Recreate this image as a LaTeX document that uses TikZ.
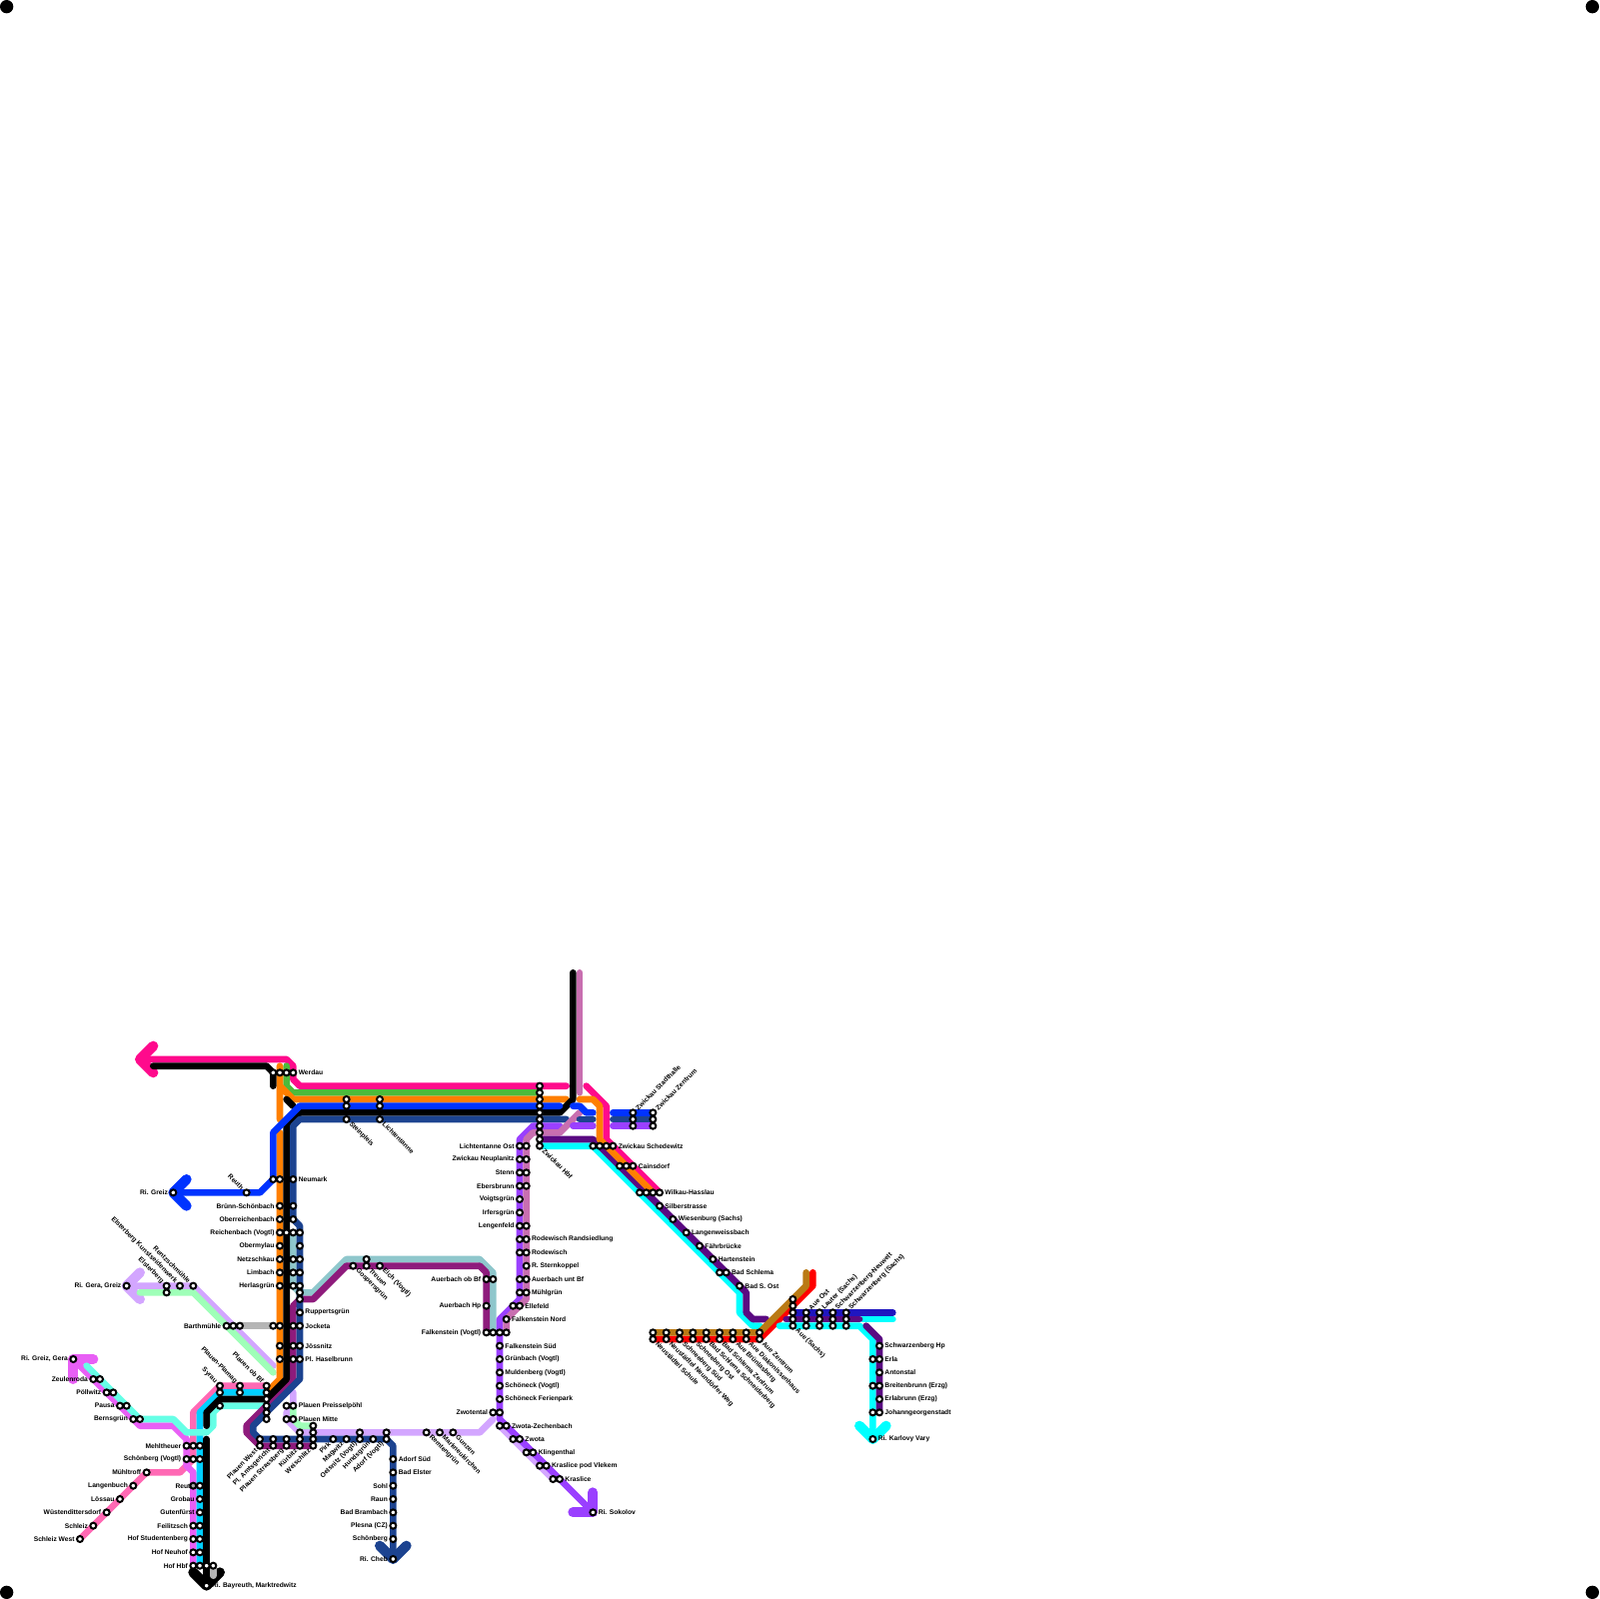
\documentclass[tikz,border=0pt]{standalone}
\usepackage{fontspec}
\setmainfont{Liberation Sans}
\definecolor{hotpink}{HTML}{FF0A8C}
\definecolor{softpink}{HTML}{FF69B4}
\definecolor{magentaline}{HTML}{E85FF5}
\definecolor{skyline}{HTML}{00CFFF}
\definecolor{turquoiseline}{HTML}{66FFE6}
\definecolor{cyanline}{HTML}{00FFFF}
\definecolor{indigoline}{HTML}{5A0A82}
\definecolor{plumline}{HTML}{8E1B7C}
\definecolor{tealline}{HTML}{8FC7CC}
\definecolor{navyline}{HTML}{1C4390}
\definecolor{blueline}{HTML}{0033FF}
\definecolor{deepblue}{HTML}{1F16C0}
\definecolor{greenline}{HTML}{4CBB3C}
\definecolor{orangeline}{HTML}{FF7F00}
\definecolor{roseline}{HTML}{C86FB0}
\definecolor{deepviolet}{HTML}{9A40FF}
\definecolor{lightviolet}{HTML}{D3A6FF}
\definecolor{mintline}{HTML}{9FFFB8}
\definecolor{greyline}{HTML}{B5B5B5}
\definecolor{ochreline}{HTML}{BA7A14}
\tikzset{
  strecke/.style={line width=1mm,line cap=round,line join=round},
  kopf/.style={line width=1.5mm,line cap=round,line join=round},
  halt/.style={draw=black,fill=white,line width=0.3mm},
  lbl/.style={inner xsep=0.75mm,inner ysep=0pt,font=\fontsize{2.85}{3}\selectfont\bfseries},
  lbe/.style={lbl,anchor=west},
  lbw/.style={lbl,anchor=east},
  lbne/.style={lbl,anchor=west,rotate=45},
  lbse/.style={lbl,anchor=west,rotate=-45},
  lbnw/.style={lbl,anchor=east,rotate=-45},
  lbsw/.style={lbl,anchor=east,rotate=45}
}
\begin{document}
\begin{tikzpicture}[x=1mm,y=-1mm]
  \useasboundingbox (0,0) rectangle (240,240);

  % Ecken
  \fill (1,1) circle (1);
  \fill (239,1) circle (1);
  \fill (1,239) circle (1);
  \fill (239,239) circle (1);

  % Linien Vogtland links
  \draw[strecke,lightviolet] (19,193) -- (29,193) -- (41,205);
  \draw[kopf,lightviolet] (21,191) -- (19,193) -- (21,195);
  \draw[strecke,mintline] (21,194) -- (29,194) -- (41,206);
  \draw[strecke,greyline] (36,199) -- (41,199);
  \draw[strecke,softpink] (40,208) -- (33,208) -- (29,212) -- (29,219) -- (27,221) -- (22,221) -- (12,231);
  \draw[strecke,magentaline] (11,204) -- (21,214) -- (26,214) -- (28,216) -- (28,220) -- (29,221) -- (29,235);
  \draw[kopf,magentaline] (14,204) -- (11,204) -- (11,207);
  \draw[strecke,skyline] (40,209) -- (33,209) -- (30,212) -- (30,235);
  \draw[strecke,turquoiseline] (13,205) -- (21,213) -- (26,213) -- (28,215) -- (31,215) -- (32,214) -- (32,212) -- (33,211) -- (40,211);

  % Linien Plauen
  \draw[strecke,lightviolet] (44,209) -- (44,211) -- (43,212) -- (43,213) -- (45,215) -- (72,215) -- (74,213);
  \draw[strecke,mintline] (44,211) -- (44,213) -- (45,214) -- (47,214);
  \draw[strecke,tealline] (74,200) -- (74,191) -- (72,189) -- (52,189) -- (47,194) -- (45,194) -- (44,193) -- (44,185);
  \draw[strecke,plumline] (73,200) -- (73,191) -- (72,190) -- (52,190) -- (47,195) -- (45,195) -- (44,196) -- (44,207) -- (37,214) -- (37,215) -- (39,217) -- (47,217);

  % Linien Werdau - Zwickau
  \draw[strecke,hotpink] (21,159) -- (43,159) -- (44,160) -- (44,162) -- (45,163) -- (85,163);
  \draw[kopf,hotpink] (23,157) -- (21,159) -- (23,161);
  \draw[strecke,greenline] (43,160) -- (43,163) -- (44,164) -- (81,164);
  \draw[strecke,orangeline] (42,168) -- (42,160) (42,163) -- (44,165) -- (85,165);
  \draw[strecke,orangeline] (42,170) -- (42,207) -- (40,209);
  \draw[strecke,black] (23,160) -- (40,160) -- (41,161) -- (41,163);
  \draw[strecke,black] (43,165) -- (44,166);
  \draw[strecke,black] (86,146) -- (86,165) -- (84,167) -- (45,167) -- (43,169) -- (43,207) -- (40,210) -- (33,210) -- (31,212) -- (31,214);
  \draw[strecke,black] (31,238) -- (31,216);
  \draw[kopf,black] (29,236) -- (31,238) -- (33,236);
  \draw[strecke,greyline] (32,235) -- (32,236.5);
  \draw[strecke,blueline] (84,166) -- (45,166) -- (41,170) -- (41,177) -- (39,179) -- (26,179);
  \draw[kopf,blueline] (28,177) -- (26,179) -- (28,181);
  \draw[strecke,navyline] (85,168) -- (45,168) -- (44,169) -- (44,183) -- (45,184) -- (45,207) -- (38,214) -- (38,215) -- (39,216) -- (58,216) -- (59,217) -- (59,234);
  \draw[kopf,navyline] (57,232) -- (59,234) -- (61,232);

  % Linien Zwickau - Falkenstein
  \draw[strecke,lightviolet] (75,214) -- (83,222);
  \draw[strecke,deepviolet] (84,169) -- (80,169) -- (78,171) -- (78,195) -- (75,198) -- (75,213) -- (89,227);
  \draw[kopf,deepviolet] (89,224) -- (89,227) -- (86,227);
  \draw[strecke,roseline] (87,146) -- (87,164);
  \draw[strecke,roseline] (87,167) -- (84,170) -- (80,170) -- (79,171) -- (79,195) -- (76,198) -- (76,200);

  % Stummel Zwickau
  \draw[strecke,blueline] (86,166) -- (87,166) -- (88,167) -- (89,167);
  \draw[strecke,navyline] (87,168) -- (89,168);
  \draw[strecke,deepviolet] (86,169) -- (89,169);
  \draw[strecke,blueline] (92,167) -- (98,167);
  \draw[strecke,navyline] (92,168) -- (98,168);
  \draw[strecke,deepviolet] (92,169) -- (98,169);

  % Linien Zwickau - Aue
  \draw[strecke,hotpink] (88,163) -- (91,166) -- (91,171) -- (99,179);
  \draw[strecke,cyanline] (81,172) -- (89,172) -- (111,194) -- (111,197) -- (113,199) -- (114,199);
  \draw[strecke,indigoline] (81,171) -- (89,171) -- (112,194) -- (112,197) -- (113,198) -- (115,198);
  \draw[strecke,orangeline] (87,165) -- (89,165) -- (90,166) -- (90,171) -- (98,179);

  % Linien Aue - Johanngeorgenstadt
  \draw[strecke,red] (98,201) -- (114,201) -- (122,193) -- (122,191);
  \draw[strecke,ochreline] (98,200) -- (114,200) -- (121,193) -- (121,191);
  \draw[strecke,deepblue] (119,197) -- (134,197);
  \draw[strecke,cyanline] (129.5,198) -- (134,198);
  \draw[strecke,indigoline] (118,198) -- (129,198);
  \draw[strecke,cyanline] (117,199) -- (129,199) -- (131,201) -- (131,216);
  \draw[kopf,cyanline] (129,214) -- (131,216) -- (133,214);
  \draw[strecke,indigoline] (130,199) -- (132,201) -- (132,212);

  % Beschriftung links
  \node[lbw] (rigeragreiz) at (19,193) {Ri. Gera, Greiz};
  \node[lbnw] (elsterberg) at (25,193) {Elsterberg};
  \node[lbnw] (kunstseidenwerk) at (27,193) {Elsterberg Kunstseidenwerk};
  \node[lbnw] (rentzschmuehle) at (29,193) {Rentzschmühle};
  \node[lbw] (barthmuehle) at (34,199) {Barthmühle};
  \node[lbw] (rigreizgera) at (11,204) {Ri. Greiz, Gera};
  \node[lbw] (zeulenroda) at (14,207) {Zeulenroda};
  \node[lbw] (poellwitz) at (16,209) {Pöllwitz};
  \node[lbw] (pausa) at (18,211) {Pausa};
  \node[lbw] (bernsgruen) at (20,213) {Bernsgrün};
  \node[lbw] (mehltheuer) at (28,217) {Mehltheuer};
  \node[lbw] (schoenbergv) at (28,219) {Schönberg (Vogtl)};
  \node[lbw] (muehltroff) at (22,221) {Mühltroff};
  \node[lbw] (langenbuch) at (20,223) {Langenbuch};
  \node[lbw] (loessau) at (18,225) {Lössau};
  \node[lbw] (wuestendittersdorf) at (16,227) {Wüstendittersdorf};
  \node[lbw] (schleiz) at (14,229) {Schleiz};
  \node[lbw] (schleizwest) at (12,231) {Schleiz West};
  \node[lbw] (reuthhof) at (30,223) {Reuth};
  \node[lbw] (grobau) at (30,225) {Grobau};
  \node[lbw] (gutenfuerst) at (30,227) {Gutenfürst};
  \node[lbw] (feilitzsch) at (29,229) {Feilitzsch};
  \node[lbw] (hofstudentenberg) at (29,231) {Hof Studentenberg};
  \node[lbw] (hofneuhof) at (29,233) {Hof Neuhof};
  \node[lbw] (hofhbf) at (29,235) {Hof Hbf};
  \node[lbe] (ribayreuth) at (31,238) {Ri. Bayreuth, Marktredwitz};

  % Beschriftung Werdau - Plauen
  \node[lbe] (werdau) at (44,161) {Werdau};
  \node[lbse] (steinpleis) at (52,168) {Steinpleis};
  \node[lbse] (lichtentanne) at (57,168) {Lichtentanne};
  \node[lbe] (neumark) at (44,177) {Neumark};
  \node[lbnw] (reuth) at (37,179) {Reuth};
  \node[lbw] (rigreiz) at (26,179) {Ri. Greiz};
  \node[lbw] (bruenn) at (42,181) {Brünn-Schönbach};
  \node[lbw] (oberreichenbach) at (42,183) {Oberreichenbach};
  \node[lbw] (reichenbach) at (42,185) {Reichenbach (Vogtl)};
  \node[lbw] (obermylau) at (42,187) {Obermylau};
  \node[lbw] (netzschkau) at (42,189) {Netzschkau};
  \node[lbw] (limbach) at (42,191) {Limbach};
  \node[lbw] (herlasgruen) at (42,193) {Herlasgrün};
  \node[lbe] (ruppertsgruen) at (45,197) {Ruppertsgrün};
  \node[lbe] (jocketa) at (45,199) {Jocketa};
  \node[lbe] (joessnitz) at (45,202) {Jössnitz};
  \node[lbe] (haselbrunn) at (45,204) {Pl. Haselbrunn};
  \node[lbnw] (plauenobbf) at (40,208) {Plauen ob Bf};
  \node[lbnw] (plamag) at (36,208) {Plauen-Plamag};
  \node[lbnw] (syrau) at (33,208) {Syrau};
  \node[lbe] (preisselpoehl) at (44,211) {Plauen Preisselpöhl};
  \node[lbe] (plauenmitte) at (44,213) {Plauen Mitte};
  \node[lbsw] (plauenwest) at (39,217) {Plauen West};
  \node[lbsw] (amtsgericht) at (41,217) {Pl. Amtsgericht};
  \node[lbsw] (strassberg) at (43,217) {Plauen Strassberg};
  \node[lbsw] (kuerbitz) at (45,217) {Kürbitz};
  \node[lbsw] (weischlitz) at (47,217) {Weischlitz};
  \node[lbsw] (pirk) at (50,216) {Pirk};
  \node[lbsw] (magwitz) at (52,216) {Magwitz};
  \node[lbsw] (oelsnitz) at (54,216) {Oelsnitz (Vogtl)};
  \node[lbsw] (hundsgruen) at (56,216) {Hundsgrün};
  \node[lbsw] (adorf) at (58,216) {Adorf (Vogtl)};
  \node[lbse] (remtengruen) at (64,215) {Remtengrün};
  \node[lbse] (markneukirchen) at (66,215) {Markneukirchen};
  \node[lbse] (gunzen) at (68,215) {Gunzen};
  \node[lbe] (adorfsued) at (59,219) {Adorf Süd};
  \node[lbe] (badelster) at (59,221) {Bad Elster};
  \node[lbw] (sohl) at (59,223) {Sohl};
  \node[lbw] (raun) at (59,225) {Raun};
  \node[lbw] (badbrambach) at (59,227) {Bad Brambach};
  \node[lbw] (plesna) at (59,229) {Plesna (CZ)};
  \node[lbw] (schoenberg) at (59,231) {Schönberg};
  \node[lbw] (richeb) at (59,234) {Ri. Cheb};
  \node[lbse] (gospersgruen) at (53,190) {Gospersgrün};
  \node[lbse] (treuen) at (55,190) {Treuen};
  \node[lbse] (eich) at (57,190) {Eich (Vogtl)};

  % Beschriftung Zwickau - Falkenstein
  \node[lbse] (zwickauhbf) at (81,172) {Zwickau Hbf};
  \node[lbw] (lichtentanneost) at (78,172) {Lichtentanne Ost};
  \node[lbw] (neuplanitz) at (78,174) {Zwickau Neuplanitz};
  \node[lbw] (stenn) at (78,176) {Stenn};
  \node[lbw] (ebersbrunn) at (78,178) {Ebersbrunn};
  \node[lbw] (voigtsgruen) at (78,180) {Voigtsgrün};
  \node[lbw] (irfersgruen) at (78,182) {Irfersgrün};
  \node[lbw] (lengenfeld) at (78,184) {Lengenfeld};
  \node[lbe] (randsiedlung) at (79,186) {Rodewisch Randsiedlung};
  \node[lbe] (rodewisch) at (79,188) {Rodewisch};
  \node[lbe] (sternkoppel) at (79,190) {R. Sternkoppel};
  \node[lbe] (auerbachunt) at (79,192) {Auerbach unt Bf};
  \node[lbe] (muehlgruen) at (79,194) {Mühlgrün};
  \node[lbe] (ellefeld) at (78,196) {Ellefeld};
  \node[lbe] (falkensteinnord) at (76,198) {Falkenstein Nord};
  \node[lbw] (auerbachob) at (73,192) {Auerbach ob Bf};
  \node[lbw] (auerbachhp) at (73,196) {Auerbach Hp};
  \node[lbw] (falkenstein) at (73,200) {Falkenstein (Vogtl)};
  \node[lbe] (falkensteinsued) at (75,202) {Falkenstein Süd};
  \node[lbe] (gruenbach) at (75,204) {Grünbach (Vogtl)};
  \node[lbe] (muldenberg) at (75,206) {Muldenberg (Vogtl)};
  \node[lbe] (schoeneck) at (75,208) {Schöneck (Vogtl)};
  \node[lbe] (ferienpark) at (75,210) {Schöneck Ferienpark};
  \node[lbw] (zwotental) at (74,212) {Zwotental};
  \node[lbe] (zechenbach) at (76,214) {Zwota-Zechenbach};
  \node[lbe] (zwota) at (78,216) {Zwota};
  \node[lbe] (klingenthal) at (80,218) {Klingenthal};
  \node[lbe] (podvlekem) at (82,220) {Kraslice pod Vlekem};
  \node[lbe] (kraslice) at (84,222) {Kraslice};
  \node[lbe] (risokolov) at (89,227) {Ri. Sokolov};

  % Beschriftung Zwickau - Aue
  \node[lbne] (stadthalle) at (95,167) {Zwickau Stadthalle};
  \node[lbne] (zentrum) at (98,167) {Zwickau Zentrum};
  \node[lbe] (schedewitz) at (92,172) {Zwickau Schedewitz};
  \node[lbe] (cainsdorf) at (95,175) {Cainsdorf};
  \node[lbe] (wilkau) at (99,179) {Wilkau-Hasslau};
  \node[lbe] (silberstrasse) at (99,181) {Silberstrasse};
  \node[lbe] (wiesenburg) at (101,183) {Wiesenburg (Sachs)};
  \node[lbe] (langenweissbach) at (103,185) {Langenweissbach};
  \node[lbe] (faehrbruecke) at (105,187) {Fährbrücke};
  \node[lbe] (hartenstein) at (107,189) {Hartenstein};
  \node[lbe] (badschlema) at (109,191) {Bad Schlema};
  \node[lbe] (badsost) at (111,193) {Bad S. Ost};
  \node[lbse] (neustaedtelschule) at (98,201) {Neustädtel Schule};
  \node[lbse] (neundoerfer) at (100,201) {Neustädtel Neundörfer Weg};
  \node[lbse] (schneebergsued) at (102,201) {Schneeberg Süd};
  \node[lbse] (schneebergost) at (104,201) {Schneeberg Ost};
  \node[lbse] (schneiderberg) at (106,201) {Bad Schlema Schneiderberg};
  \node[lbse] (schlemazentrum) at (108,201) {Bad Schlema Zentrum};
  \node[lbse] (bruenlasberg) at (110,201) {Aue Brünlasberg};
  \node[lbse] (diakonissenhaus) at (112,201) {Aue Diakonissenhaus};
  \node[lbse] (auezentrum) at (114,201) {Aue Zentrum};
  \node[lbse] (auesachs) at (119,199) {Aue (Sachs)};
  \node[lbne] (aueost) at (121,197) {Aue Ost};
  \node[lbne] (lauter) at (123,197) {Lauter (Sachs)};
  \node[lbne] (neuwelt) at (125,197) {Schwarzenberg-Neuwelt};
  \node[lbne] (schwarzenberg) at (127,197) {Schwarzenberg (Sachs)};
  \node[lbe] (schwarzenberghp) at (132,202) {Schwarzenberg Hp};
  \node[lbe] (erla) at (132,204) {Erla};
  \node[lbe] (antonstal) at (132,206) {Antonstal};
  \node[lbe] (breitenbrunn) at (132,208) {Breitenbrunn (Erzg)};
  \node[lbe] (erlabrunn) at (132,210) {Erlabrunn (Erzg)};
  \node[lbe] (johanngeorgenstadt) at (132,212) {Johanngeorgenstadt};
  \node[lbe] (rikarlovyvary) at (131,216) {Ri. Karlovy Vary};

  % Halte links
  \draw[halt] (19,193) circle (0.45) (25,193) circle (0.45) (25,194) circle (0.45) (27,193) circle (0.45) (29,193) circle (0.45);
  \draw[halt] (34,199) circle (0.45) (35,199) circle (0.45) (36,199) circle (0.45) (41,199) circle (0.45);
  \draw[halt] (11,204) circle (0.45) (14,207) circle (0.45) (15,207) circle (0.45) (16,209) circle (0.45) (17,209) circle (0.45);
  \draw[halt] (18,211) circle (0.45) (19,211) circle (0.45) (20,213) circle (0.45) (21,213) circle (0.45);
  \draw[halt] (22,221) circle (0.45) (20,223) circle (0.45) (18,225) circle (0.45) (16,227) circle (0.45) (14,229) circle (0.45) (12,231) circle (0.45);
  \draw[halt] (28,217) circle (0.45) (29,217) circle (0.45) (30,217) circle (0.45) (28,219) circle (0.45) (29,219) circle (0.45) (30,219) circle (0.45);
  \draw[halt,fill=gray!70] (29,223) circle (0.45);
  \draw[halt] (30,223) circle (0.45) (30,225) circle (0.45) (30,227) circle (0.45) (29,229) circle (0.45) (30,229) circle (0.45);
  \draw[halt] (29,231) circle (0.45) (30,231) circle (0.45) (29,233) circle (0.45) (30,233) circle (0.45);
  \draw[halt] (29,235) circle (0.45) (30,235) circle (0.45) (31,235) circle (0.45) (32,235) circle (0.45) (31,238) circle (0.45);

  % Halte Werdau - Plauen
  \draw[halt] (41,161) circle (0.45) (42,161) circle (0.45) (43,161) circle (0.45) (44,161) circle (0.45);
  \draw[halt] (52,165) circle (0.45) (52,166) circle (0.45) (52,168) circle (0.45) (57,165) circle (0.45) (57,166) circle (0.45) (57,168) circle (0.45);
  \draw[halt] (41,177) circle (0.45) (42,177) circle (0.45) (44,177) circle (0.45) (37,179) circle (0.45) (26,179) circle (0.45);
  \draw[halt] (42,181) circle (0.45) (44,181) circle (0.45) (42,183) circle (0.45) (44,183) circle (0.45);
  \draw[halt] (42,185) circle (0.45) (43,185) circle (0.45) (44,185) circle (0.45) (45,185) circle (0.45) (42,187) circle (0.45) (45,187) circle (0.45);
  \draw[halt] (42,189) circle (0.45) (44,189) circle (0.45) (45,189) circle (0.45) (42,191) circle (0.45) (44,191) circle (0.45) (45,191) circle (0.45);
  \draw[halt] (42,193) circle (0.45) (44,193) circle (0.45) (45,193) circle (0.45) (45,194) circle (0.45) (45,195) circle (0.45) (45,197) circle (0.45);
  \draw[halt] (42,199) circle (0.45) (44,199) circle (0.45) (45,199) circle (0.45) (42,202) circle (0.45) (44,202) circle (0.45) (45,202) circle (0.45);
  \draw[halt] (42,204) circle (0.45) (44,204) circle (0.45) (45,204) circle (0.45);
  \draw[halt] (40,208) circle (0.45) (40,209) circle (0.45) (40,210) circle (0.45) (40,211) circle (0.45) (40,212) circle (0.45) (40,213) circle (0.45);
  \draw[halt] (36,208) circle (0.45) (36,209) circle (0.45) (33,208) circle (0.45) (33,209) circle (0.45) (33,211) circle (0.45);
  \draw[halt] (43,211) circle (0.45) (44,211) circle (0.45) (43,213) circle (0.45) (44,213) circle (0.45);
  \draw[halt] (47,214) circle (0.45) (47,215) circle (0.45) (47,216) circle (0.45) (47,217) circle (0.45);
  \draw[halt] (45,215) circle (0.45) (45,216) circle (0.45) (45,217) circle (0.45) (43,216) circle (0.45) (43,217) circle (0.45);
  \draw[halt] (41,216) circle (0.45) (41,217) circle (0.45) (39,216) circle (0.45) (39,217) circle (0.45);
  \draw[halt] (50,216) circle (0.45) (52,216) circle (0.45) (54,215) circle (0.45) (54,216) circle (0.45) (56,216) circle (0.45) (58,215) circle (0.45) (58,216) circle (0.45);
  \draw[halt] (64,215) circle (0.45) (66,215) circle (0.45) (68,215) circle (0.45);
  \draw[halt] (59,219) circle (0.45) (59,221) circle (0.45) (59,223) circle (0.45) (59,225) circle (0.45) (59,227) circle (0.45) (59,229) circle (0.45) (59,231) circle (0.45) (59,234) circle (0.45);
  \draw[halt] (53,190) circle (0.45) (55,189) circle (0.45) (55,190) circle (0.45) (57,190) circle (0.45);

  % Halte Zwickau - Falkenstein
  \draw[halt] (81,163) circle (0.45) (81,164) circle (0.45) (81,165) circle (0.45) (81,166) circle (0.45) (81,167) circle (0.45);
  \draw[halt] (81,168) circle (0.45) (81,169) circle (0.45) (81,170) circle (0.45) (81,171) circle (0.45) (81,172) circle (0.45);
  \draw[halt] (78,172) circle (0.45) (79,172) circle (0.45) (78,174) circle (0.45) (79,174) circle (0.45) (78,176) circle (0.45) (79,176) circle (0.45);
  \draw[halt] (78,178) circle (0.45) (79,178) circle (0.45) (78,180) circle (0.45) (78,182) circle (0.45) (78,184) circle (0.45) (79,184) circle (0.45);
  \draw[halt] (78,186) circle (0.45) (79,186) circle (0.45) (78,188) circle (0.45) (79,188) circle (0.45) (79,190) circle (0.45);
  \draw[halt] (78,192) circle (0.45) (79,192) circle (0.45) (78,194) circle (0.45) (79,194) circle (0.45) (77,196) circle (0.45) (78,196) circle (0.45) (76,198) circle (0.45);
  \draw[halt] (73,192) circle (0.45) (74,192) circle (0.45) (73,196) circle (0.45);
  \draw[halt] (73,200) circle (0.45) (74,200) circle (0.45) (75,200) circle (0.45) (76,200) circle (0.45);
  \draw[halt] (75,202) circle (0.45) (75,204) circle (0.45) (75,206) circle (0.45) (75,208) circle (0.45) (75,210) circle (0.45) (74,212) circle (0.45) (75,212) circle (0.45);
  \draw[halt] (75,214) circle (0.45) (76,214) circle (0.45) (77,216) circle (0.45) (78,216) circle (0.45) (79,218) circle (0.45) (80,218) circle (0.45);
  \draw[halt] (81,220) circle (0.45) (82,220) circle (0.45) (83,222) circle (0.45) (84,222) circle (0.45) (89,227) circle (0.45);

  % Halte Zwickau - Aue
  \draw[halt] (95,167) circle (0.45) (95,168) circle (0.45) (95,169) circle (0.45) (98,167) circle (0.45) (98,168) circle (0.45) (98,169) circle (0.45);
  \draw[halt] (89,172) circle (0.45) (90,172) circle (0.45) (91,172) circle (0.45) (92,172) circle (0.45);
  \draw[halt] (93,175) circle (0.45) (94,175) circle (0.45) (95,175) circle (0.45);
  \draw[halt] (96,179) circle (0.45) (97,179) circle (0.45) (98,179) circle (0.45) (99,179) circle (0.45);
  \draw[halt] (99,181) circle (0.45) (101,183) circle (0.45) (103,185) circle (0.45) (105,187) circle (0.45) (107,189) circle (0.45);
  \draw[halt] (108,191) circle (0.45) (109,191) circle (0.45) (111,193) circle (0.45);
  \draw[halt] (98,200) circle (0.45) (98,201) circle (0.45) (100,200) circle (0.45) (100,201) circle (0.45) (102,200) circle (0.45) (102,201) circle (0.45);
  \draw[halt] (104,200) circle (0.45) (104,201) circle (0.45) (106,200) circle (0.45) (106,201) circle (0.45) (108,200) circle (0.45) (108,201) circle (0.45);
  \draw[halt] (110,200) circle (0.45) (110,201) circle (0.45) (112,200) circle (0.45) (112,201) circle (0.45) (114,200) circle (0.45) (114,201) circle (0.45);
  \draw[halt] (119,195) circle (0.45) (119,196) circle (0.45) (119,197) circle (0.45) (119,198) circle (0.45) (119,199) circle (0.45);
  \draw[halt] (121,197) circle (0.45) (121,198) circle (0.45) (121,199) circle (0.45) (123,197) circle (0.45) (123,198) circle (0.45) (123,199) circle (0.45);
  \draw[halt] (125,197) circle (0.45) (125,198) circle (0.45) (125,199) circle (0.45) (127,197) circle (0.45) (127,198) circle (0.45) (127,199) circle (0.45);
  \draw[halt] (132,202) circle (0.45) (131,204) circle (0.45) (132,204) circle (0.45) (132,206) circle (0.45) (131,208) circle (0.45) (132,208) circle (0.45);
  \draw[halt] (132,210) circle (0.45) (131,212) circle (0.45) (132,212) circle (0.45) (131,216) circle (0.45);
\end{tikzpicture}
\end{document}
